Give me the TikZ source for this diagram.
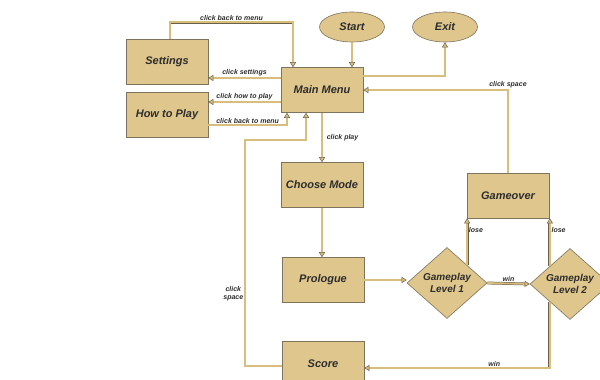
\documentclass[tikz,border=0pt]{standalone}
\usepackage{fontspec}
\setmainfont{Liberation Sans}
\usetikzlibrary{arrows.meta}
\usetikzlibrary{shapes.geometric}
\definecolor{boxfill}{RGB}{223,198,140}
\definecolor{boxedge}{RGB}{125,115,95}
\definecolor{wiretan}{RGB}{215,190,125}
\definecolor{wiredark}{RGB}{105,95,75}
\definecolor{textdark}{RGB}{45,45,45}
\tikzset{
    stepbox/.style={draw=boxedge, fill=boxfill, line width=0.6pt, minimum width=82pt, minimum height=45pt, inner sep=0pt, text=textdark, font=\bfseries\itshape\fontsize{11}{13}\selectfont},
    endbox/.style={stepbox, ellipse, minimum width=65pt, minimum height=30pt},
    levelbox/.style={stepbox, diamond, align=center, minimum width=80pt, minimum height=71pt, font=\bfseries\itshape\fontsize{10}{12}\selectfont},
    wire/.style={draw=wiredark, line width=0.5pt, double=wiretan, double distance=1.8pt, -{Triangle[length=5pt, width=6pt, fill=wiretan]}},
    wirelabel/.style={text=textdark, inner sep=1.5pt, font=\bfseries\itshape\fontsize{7}{8}\selectfont}
}

\begin{document}
\begin{tikzpicture}[x=1pt, y=-1pt]
    \useasboundingbox (0,0) rectangle (600,380);
    \clip (0,0) rectangle (600,380);
    % nodes
    \node[endbox] (start) at (352,27) {Start};
    \node[endbox] (exit) at (445,27) {Exit};
    \node[stepbox] (settings) at (167,62) {Settings};
    \node[stepbox] (howto) at (167,115) {How to Play};
    \node[stepbox] (mainmenu) at (322,90) {Main Menu};
    \node[stepbox] (choose) at (322,185) {Choose Mode};
    \node[stepbox] (prologue) at (323,280) {Prologue};
    \node[stepbox] (gameover) at (508,195.5) {Gameover};
    \node[levelbox] (level1) at (447,283) {Gameplay\\Level 1};
    \node[levelbox] (level2) at (570,284) {Gameplay\\Level 2};
    \node[stepbox] (score) at (323,363.5) {Score};
    % menu links
    \draw[wire] (start) -- (start |- mainmenu.north);
    \draw[wire] ([yshift=14pt]mainmenu.east) -| (exit.south);
    \coordinate (tosettings) at ([yshift=12pt]mainmenu.west);
    \draw[wire] (tosettings) -- node[wirelabel, above]{click settings} (tosettings -| settings.east);
    \draw[wire] ([xshift=3pt]settings.north) -- ++(0,-17) -| node[wirelabel, above, pos=0.25]{click back to menu} ([xshift=-29pt]mainmenu.north);
    \coordinate (tohowto) at ([yshift=-12pt]mainmenu.west);
    \draw[wire] (tohowto) -- node[wirelabel, above]{click how to play} (tohowto -| howto.east);
    \draw[wire] ([yshift=-10pt]howto.east) -| node[wirelabel, above, pos=0.25]{click back to menu} ([xshift=-35pt]mainmenu.south);
    % game flow
    \draw[wire] (mainmenu) -- node[wirelabel, right, xshift=3pt]{click play} (choose);
    \draw[wire] (choose) -- (choose |- prologue.north);
    \draw[wire] (prologue.east) -- (prologue.east -| level1.west);
    \draw[wire] (level1.east) -- node[wirelabel, above]{win} (level2.west);
    \draw[wire] (level1.north east) -- node[wirelabel, right, pos=0.75]{lose} (level1.north east |- gameover.south);
    \draw[wire] (level2.north west) -- node[wirelabel, right, pos=0.75]{lose} (level2.north west |- gameover.south);
    \draw[wire] (gameover.north) |- node[wirelabel, above, pos=0.5]{click space} (mainmenu.east);
    \coordinate (toscore) at ([yshift=-4.5pt]score.east);
    \draw[wire] (level2.south west) |- node[wirelabel, above, pos=0.65]{win} (toscore);
    % back from score
    \coordinate (loopcorner) at (245,140);
    \draw[wire] ([yshift=-2.5pt]score.west) -| node[wirelabel, left, align=center, pos=0.66]{click\\space} (loopcorner) -| ([xshift=-16pt]mainmenu.south);
\end{tikzpicture}
\end{document}
